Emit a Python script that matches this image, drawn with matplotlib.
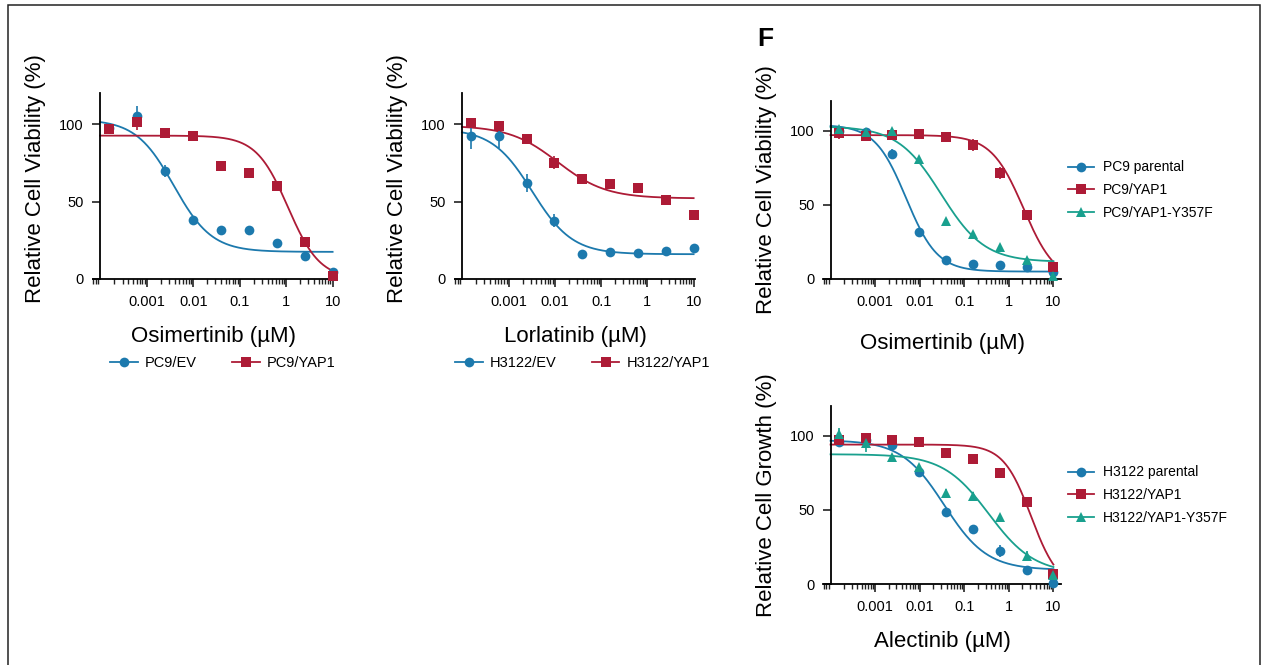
import numpy as np
import matplotlib
matplotlib.use('Agg')
import matplotlib.pyplot as plt
from matplotlib.lines import Line2D
from matplotlib.patches import Rectangle
from matplotlib.ticker import LogLocator, FixedLocator, FixedFormatter, NullFormatter

plt.rcParams['font.family'] = ['Liberation Sans', 'DejaVu Sans']

# drug concentrations (uM), 4-fold dilutions
conc = [0.000153, 0.00061, 0.00244, 0.00977, 0.0391, 0.156, 0.625, 2.5, 10]

# Osimertinib, PC9/EV vs PC9/YAP1
pc9_ev = [97.4, 105.4, 69.7, 38.3, 31.6, 31.6, 23.4, 14.9, 4.8]
pc9_ev_err = [2, 6, 4, 0, 0, 0, 0, 0, 1]
pc9_yap1 = [96.7, 101, 94, 92.4, 73, 68.2, 60, 23.6, 2]
pc9_yap1_err = [2, 5, 2, 3, 0, 0, 0, 0, 1]

# Lorlatinib, H3122/EV vs H3122/YAP1
h3122_ev = [92, 92.4, 62, 37.7, 16, 17.3, 16.7, 18.2, 19.7]
h3122_ev_err = [8, 8, 6, 4, 2, 3, 0, 0, 0]
h3122_yap1 = [100.4, 98.9, 90.3, 75.1, 64.7, 61.5, 58.7, 50.9, 41.4]
h3122_yap1_err = [1, 3, 2, 4, 0, 0, 0, 1, 0]

# Osimertinib, PC9 parental / YAP1 / YAP1-Y357F
pc9_par = [100, 98.9, 84.5, 31.5, 12.8, 9.9, 9.2, 8.3, 4.5]
pc9_par_err = [3, 1, 3, 0, 0, 0, 0, 0, 0]
pc9_yap = [98.4, 96.2, 97.1, 97.7, 95.7, 90.3, 71.2, 43.2, 8.3]
pc9_yap_err = [4, 1, 1, 1, 1, 4, 4, 0, 0]
pc9_mut = [101, 99, 100, 80.9, 39.4, 30.4, 21.8, 12.8, 2.3]
pc9_mut_err = [0, 0, 0, 2, 0, 0, 0, 0, 0]

# Alectinib, H3122 parental / YAP1 / YAP1-Y357F
h3122_par = [95.7, 96.8, 93.9, 75.5, 48.4, 36.9, 22.5, 9.2, 0.9]
h3122_par_err = [1, 1, 2, 2, 0, 3, 4, 0, 0]
h3122_yap = [97.3, 98.4, 96.8, 95.7, 88.3, 84.5, 74.8, 55.2, 6.5]
h3122_yap_err = [3, 2, 2, 1, 0, 1, 3, 0, 0]
h3122_mut = [101.4, 95, 85.4, 78.8, 61.3, 59, 45.5, 19.1, 6]
h3122_mut_err = [4, 6, 2, 2, 3, 3, 0, 3, 0]

# 4PL fit parameters: top, bottom, logIC50, hill
fit_pc9_ev = [103, 17.5, -2.42, 1.06]
fit_pc9_yap1 = [92.5, 0, 0.04, 1.27]
fit_h3122_ev = [97, 16, -2.49, 1.0]
fit_h3122_yap1 = [99, 52, -1.94, 0.83]
fit_pc9_par = [104, 5, -2.305, 1.24]
fit_pc9_yap = [97, -2, 0.33, 1.2]
fit_pc9_mut = [103, 11.5, -1.52, 0.89]
fit_h3122_par = [97, 9.5, -1.45, 0.905]
fit_h3122_yap = [94, -3, 0.5, 1.4]
fit_h3122_mut = [87.5, 7, -0.45, 0.85]

BLUE = '#1c79ad'
RED = '#ad1b36'
TEAL = '#19a08e'

W, H = 1265, 665


def px_axes(fig, left, top, right, bottom):
    return fig.add_axes([left / W, 1 - bottom / H, (right - left) / W, (bottom - top) / H])


def four_pl(x, p):
    top, bottom, c, h = p
    return bottom + (top - bottom) / (1 + 10 ** ((np.log10(x) - c) * h))


def draw_series(ax, y, err, fit, color, marker, ms, xmin):
    xs = np.logspace(np.log10(xmin), 1, 300)
    ax.plot(xs, four_pl(xs, fit), color=color, lw=1.3, zorder=2)
    ax.errorbar(conc, y, yerr=err, fmt=marker, color=color, ms=ms, mew=0,
                ecolor=color, elinewidth=1.2, capsize=3, capthick=1.2,
                clip_on=False, zorder=3)


def style_axes(ax, xlim, yspine, ylabel, xlabel, ylab_y=0.5):
    ax.set_xscale('log')
    ax.set_xlim(*xlim)
    ax.set_ylim(0, 120)
    for s in ['top', 'right']:
        ax.spines[s].set_visible(False)
    for s in ['left', 'bottom']:
        ax.spines[s].set_linewidth(1.3)
    # x axis runs a little past the y axis, as in Prism
    ax.spines['left'].set_position(('data', yspine))
    ax.xaxis.set_major_locator(FixedLocator([0.001, 0.01, 0.1, 1, 10]))
    ax.xaxis.set_major_formatter(FixedFormatter(['0.001', '0.01', '0.1', '1', '10']))
    ax.xaxis.set_minor_locator(LogLocator(base=10, subs=np.arange(2, 10), numticks=20))
    ax.xaxis.set_minor_formatter(NullFormatter())
    ax.set_yticks([0, 50, 100])
    ax.tick_params(axis='both', which='major', labelsize=10.5, length=5.5, width=1.2, pad=6, color='#222222')
    ax.tick_params(axis='x', which='minor', length=3.5, width=1.0, color='#222222')
    ax.set_xlabel(xlabel, fontsize=16, labelpad=12)
    ax.set_ylabel(ylabel, fontsize=16)
    ax.yaxis.set_label_coords(-0.195, ylab_y)


def handles(colors, markers, labels):
    return [Line2D([0], [0], color=c, marker=m, ms=7, mew=0, lw=1.3, label=l)
            for c, m, l in zip(colors, markers, labels)]


def main():
    fig = plt.figure(figsize=(W / 100, H / 100), dpi=100)

    # outer frame
    fig.patches.append(Rectangle((8 / W, -0.02), 1252 / W, (H - 5) / H + 0.02,
                                 transform=fig.transFigure, fill=False,
                                 edgecolor='#222222', lw=1.1))

    spine_a = 10 ** -4.01
    xlim_a = (10 ** -4.16, 10 ** 1.03)
    spine_f = 10 ** -4.0
    xlim_f = (10 ** -4.17, 10 ** 1.17)

    # Osimertinib PC9
    ax1 = px_axes(fig, 93, 93, 334, 279)
    draw_series(ax1, pc9_ev, pc9_ev_err, fit_pc9_ev, BLUE, 'o', 7, spine_a)
    draw_series(ax1, pc9_yap1, pc9_yap1_err, fit_pc9_yap1, RED, 's', 6.5, spine_a)
    style_axes(ax1, xlim_a, spine_a, 'Relative Cell Viability (%)', 'Osimertinib (µM)', 0.54)
    fig.legend(handles=handles([BLUE, RED], ['o', 's'], ['PC9/EV', 'PC9/YAP1']),
               loc='center left', bbox_to_anchor=(110 / W, 1 - 363 / H), ncol=2,
               frameon=False, fontsize=10.5, handlelength=1.9, handletextpad=0.5,
               columnspacing=2.4, borderpad=0, borderaxespad=0)

    # Lorlatinib H3122
    ax2 = px_axes(fig, 455, 93, 695, 279)
    draw_series(ax2, h3122_ev, h3122_ev_err, fit_h3122_ev, BLUE, 'o', 7, spine_a)
    draw_series(ax2, h3122_yap1, h3122_yap1_err, fit_h3122_yap1, RED, 's', 6.5, spine_a)
    style_axes(ax2, xlim_a, spine_a, 'Relative Cell Viability (%)', 'Lorlatinib (µM)', 0.54)
    fig.legend(handles=handles([BLUE, RED], ['o', 's'], ['H3122/EV', 'H3122/YAP1']),
               loc='center left', bbox_to_anchor=(455 / W, 1 - 363 / H), ncol=2,
               frameon=False, fontsize=10.5, handlelength=1.9, handletextpad=0.5,
               columnspacing=2.4, borderpad=0, borderaxespad=0)

    # F: Osimertinib PC9 parental / YAP1 / Y357F
    ax3 = px_axes(fig, 823, 101, 1061, 279)
    draw_series(ax3, pc9_par, pc9_par_err, fit_pc9_par, BLUE, 'o', 7, spine_f)
    draw_series(ax3, pc9_yap, pc9_yap_err, fit_pc9_yap, RED, 's', 6.5, spine_f)
    draw_series(ax3, pc9_mut, pc9_mut_err, fit_pc9_mut, TEAL, '^', 7, spine_f)
    style_axes(ax3, xlim_f, spine_f, 'Relative Cell Viability (%)', 'Osimertinib (µM)')
    ax3.xaxis.labelpad = 17
    ax3.legend(handles=handles([BLUE, RED, TEAL], ['o', 's', '^'],
                               ['PC9 parental', 'PC9/YAP1', 'PC9/YAP1-Y357F']),
               loc='center left', bbox_to_anchor=(1068 / W, 1 - 190 / H),
               bbox_transform=fig.transFigure, frameon=False, fontsize=10,
               handlelength=1.9, handletextpad=0.6, labelspacing=0.62,
               borderpad=0, borderaxespad=0)

    # F: Alectinib H3122 parental / YAP1 / Y357F
    ax4 = px_axes(fig, 823, 406, 1061, 584)
    draw_series(ax4, h3122_par, h3122_par_err, fit_h3122_par, BLUE, 'o', 7, spine_f)
    draw_series(ax4, h3122_yap, h3122_yap_err, fit_h3122_yap, RED, 's', 6.5, spine_f)
    draw_series(ax4, h3122_mut, h3122_mut_err, fit_h3122_mut, TEAL, '^', 7, spine_f)
    style_axes(ax4, xlim_f, spine_f, 'Relative Cell Growth (%)', 'Alectinib (µM)')
    ax4.xaxis.labelpad = 12
    ax4.legend(handles=handles([BLUE, RED, TEAL], ['o', 's', '^'],
                               ['H3122 parental', 'H3122/YAP1', 'H3122/YAP1-Y357F']),
               loc='center left', bbox_to_anchor=(1068 / W, 1 - 495 / H),
               bbox_transform=fig.transFigure, frameon=False, fontsize=10,
               handlelength=1.9, handletextpad=0.6, labelspacing=0.62,
               borderpad=0, borderaxespad=0)

    fig.text(757 / W, 1 - 39 / H, 'F', fontsize=19, fontweight='bold', va='center', ha='left')

    fig.savefig('out.png', dpi=100)
    plt.close(fig)


if __name__ == "__main__":
    main()
